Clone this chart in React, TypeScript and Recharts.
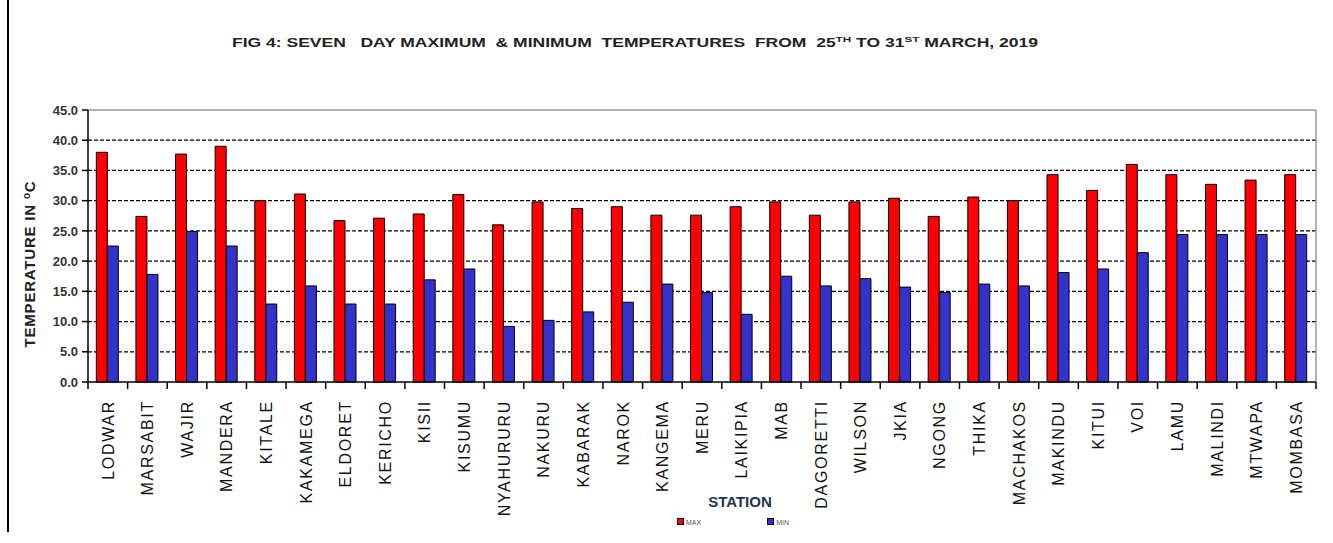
import { BarChart, Bar, XAxis, YAxis, CartesianGrid, Legend, ReferenceLine } from 'recharts';

// stations along the x axis
const stations = [
  'LODWAR', 'MARSABIT', 'WAJIR', 'MANDERA', 'KITALE', 'KAKAMEGA', 'ELDORET', 'KERICHO',
  'KISII', 'KISUMU', 'NYAHURURU', 'NAKURU', 'KABARAK', 'NAROK', 'KANGEMA', 'MERU',
  'LAIKIPIA', 'MAB', 'DAGORETTI', 'WILSON', 'JKIA', 'NGONG', 'THIKA', 'MACHAKOS',
  'MAKINDU', 'KITUI', 'VOI', 'LAMU', 'MALINDI', 'MTWAPA', 'MOMBASA',
];

const maxTemp = [
  38.0, 27.4, 37.7, 39.0, 30.0, 31.1, 26.7, 27.1,
  27.8, 31.0, 26.0, 29.8, 28.7, 29.0, 27.6, 27.6,
  29.0, 29.8, 27.6, 29.8, 30.4, 27.4, 30.6, 30.0,
  34.3, 31.7, 36.0, 34.3, 32.7, 33.4, 34.3,
];

const minTemp = [
  22.5, 17.8, 24.9, 22.5, 12.9, 15.9, 12.9, 12.9,
  16.9, 18.7, 9.2, 10.2, 11.6, 13.2, 16.2, 14.8,
  11.2, 17.5, 15.9, 17.1, 15.7, 14.8, 16.2, 15.9,
  18.1, 18.7, 21.4, 24.4, 24.4, 24.4, 24.4,
];

const yTicks = [0, 5, 10, 15, 20, 25, 30, 35, 40, 45];
const gridValues = [5, 10, 15, 20, 25, 30, 35, 40];

const data = stations.map((name, i) => ({ name, MAX: maxTemp[i], MIN: minTemp[i] }));

const FONT = '"Liberation Sans", Arial, sans-serif';

const StationTick = (props: any) => {
  const { x, y, payload, index } = props;
  const half = payload && payload.offset ? payload.offset : 19.8;
  const ty = y + 18;
  return (
    <g>
      <line x1={x - half} y1={y} x2={x - half} y2={y + 7} stroke="#000" strokeWidth={1.5} />
      {index === stations.length - 1 && (
        <line x1={x + half} y1={y} x2={x + half} y2={y + 7} stroke="#000" strokeWidth={1.5} />
      )}
      <text
        x={x}
        y={ty}
        dy="0.36em"
        transform={`rotate(-90, ${x}, ${ty})`}
        textAnchor="end"
        fill="#111"
        fontSize={16}
        letterSpacing={1.7}
        fontFamily={FONT}
      >
        {payload.value}
      </text>
    </g>
  );
};

const LegendBox = () => (
  <div style={{ display: 'flex', gap: 66, fontSize: 7, color: '#555', fontFamily: FONT }}>
    <span><span style={{ display: 'inline-block', width: 5, height: 5, background: '#ff0000', border: '0.5px solid #000', marginRight: 2 }} />MAX</span>
    <span><span style={{ display: 'inline-block', width: 5, height: 5, background: '#3333cc', border: '0.5px solid #000', marginRight: 2 }} />MIN</span>
  </div>
);

export default function App() {
  return (
    <div style={{ position: 'absolute', left: 0, top: 0, width: 1333, height: 543, background: '#fff' }}>
      <div style={{ position: 'absolute', left: 7, top: 0, width: 1.5, height: 532, background: '#000' }} />
      <svg width={1333} height={70} style={{ position: 'absolute', left: 0, top: 0 }}>
        <text
          x={232}
          y={47}
          fontSize={12}
          fontWeight="bold"
          fill="#222"
          fontFamily='"Liberation Sans Narrow", "Liberation Sans", Arial, sans-serif'
          textLength={806}
          lengthAdjust="spacingAndGlyphs"
          style={{ whiteSpace: 'pre' }}
        >
          {'FIG 4: SEVEN   DAY MAXIMUM  & MINIMUM  TEMPERATURES  FROM  25'}
          <tspan fontSize={8} dy={-5}>TH</tspan>
          <tspan dy={5}>{' TO 31'}</tspan>
          <tspan fontSize={8} dy={-5}>ST</tspan>
          <tspan dy={5}>{' MARCH, 2019'}</tspan>
        </text>
      </svg>
      <div style={{ position: 'absolute', left: 0, top: 0 }}>
        <BarChart
          width={1333}
          height={543}
          data={data}
          margin={{ top: 110, right: 17, left: 28, bottom: 31 }}
          barCategoryGap="21%"
          barGap={0}
          style={{ fontFamily: FONT }}
        >
          <CartesianGrid
            vertical={false}
            horizontalValues={gridValues}
            stroke="#000"
            strokeDasharray="4 2"
            strokeWidth={1.3}
          />
          <ReferenceLine y={45} stroke="#9a9a9a" strokeWidth={1.5} />
          <ReferenceLine x={stations[stations.length - 1]} position="end" stroke="#9a9a9a" strokeWidth={1.5} />
          <XAxis
            dataKey="name"
            interval={0}
            height={130}
            tickLine={false}
            tickSize={0}
            tickMargin={0}
            axisLine={{ stroke: '#000', strokeWidth: 1.5 }}
            tick={<StationTick />}
            label={{
              content: (p: any) => {
                const vb = p.viewBox || { x: 88, width: 1228 };
                return (
                  <text x={vb.x + vb.width / 2 + 38} y={507} textAnchor="middle" fontSize={15} fontWeight="bold" fill="#1e3450" fontFamily={FONT}>
                    STATION
                  </text>
                );
              },
            }}
          />
          <YAxis
            width={60}
            domain={[0, 45]}
            ticks={yTicks}
            interval={0}
            tickFormatter={(v: number) => v.toFixed(1)}
            tick={{ fontSize: 13, fontWeight: 'bold', fill: '#333', fontFamily: FONT }}
            tickSize={6}
            tickMargin={4}
            tickLine={{ stroke: '#000', strokeWidth: 1.5 }}
            axisLine={{ stroke: '#000', strokeWidth: 1.5 }}
            label={{
              content: () => (
                <text x={35} y={264} transform="rotate(-90, 35, 264)" textAnchor="middle" fontSize={15} letterSpacing={0.8} fontWeight="bold" fill="#222" fontFamily={FONT}>
                  TEMPERATURE IN <tspan fontSize={10} dy={-5}>o</tspan><tspan dy={5}>C</tspan>
                </text>
              ),
            }}
          />
          <Legend
            verticalAlign="middle"
            align="center"
            layout="horizontal"
            wrapperStyle={{ left: 677, top: 518, width: 140 }}
            content={<LegendBox />}
          />
          <Bar dataKey="MAX" fill="#ff0000" stroke="#000" strokeWidth={1} isAnimationActive={false} />
          <Bar dataKey="MIN" fill="#3333cc" stroke="#000" strokeWidth={1} isAnimationActive={false} />
        </BarChart>
      </div>
    </div>
  );
}
